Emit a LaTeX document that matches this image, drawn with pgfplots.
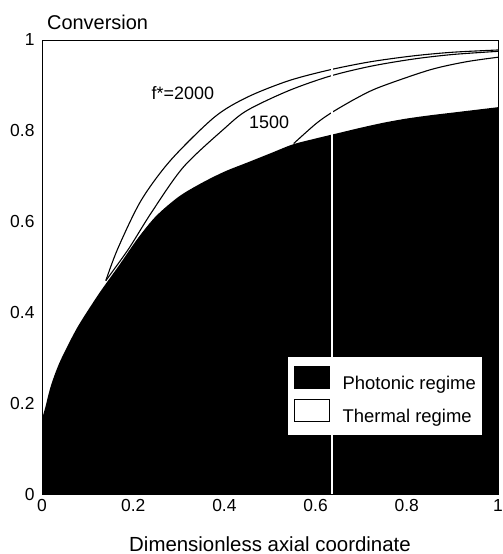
\documentclass[border=0pt]{standalone}
\usepackage{pgfplots}
\pgfplotsset{compat=1.18}
\usepackage{fontspec}
\setmainfont{Liberation Sans}
\begin{document}
\begin{tikzpicture}
\begin{axis}[
  width=456bp, height=454bp, scale only axis,
  xmin=0, xmax=1, ymin=0, ymax=1,
  xtick={0,0.2,0.4,0.6,0.8,1}, xticklabels={0,0.2,0.4,0.6,0.8,1},
  ytick={0,0.2,0.4,0.6,0.8,1}, yticklabels={0,0.2,0.4,0.6,0.8,1},
  major tick length=0pt,
  tick label style={font=\fontsize{17.5}{19}\selectfont},
  yticklabel style={xshift=-4bp},
  xticklabel style={yshift=-2bp},
  /pgf/number format/assume math mode=true,
  xlabel={Dimensionless axial coordinate},
  xlabel style={font=\fontsize{20.5}{22}\selectfont, at={(axis description cs:0.5,0)}, anchor=base, yshift=-57bp, inner sep=0pt},
  ylabel={Conversion},
  ylabel style={font=\fontsize{20}{22}\selectfont, rotate=-90, at={(axis description cs:0,1)}, anchor=base west, xshift=5bp, yshift=10bp, inner sep=0pt},
  axis line style={line width=0.8pt},
  axis on top,
  legend cell align=left,
  legend style={at={(0.965,0.13)}, anchor=south east, draw=none, fill=white,
    font=\fontsize{18.5}{20}\selectfont, inner xsep=4bp, inner ysep=9bp, row sep=6bp},
  legend image code/.code={\draw[#1] (0bp,-5bp) rectangle (35bp,17bp); \path (-2bp,0bp) (46bp,0bp);},
]
\coordinate (ll) at (rel axis cs:0,0);
\coordinate (ur) at (rel axis cs:1,1);
\addplot[fill=black, draw=none, smooth, tension=0.5, forget plot] coordinates {
(0,0.165) (0.007,0.19) (0.02,0.24) (0.04,0.293) (0.077,0.366) (0.12,0.434) (0.145,0.47) (0.17,0.505)
(0.21,0.563) (0.25,0.612) (0.30,0.655) (0.35,0.685) (0.40,0.71) (0.45,0.73)
(0.50,0.75) (0.55,0.77) (0.60,0.783) (0.65,0.795) (0.70,0.807) (0.75,0.818)
(0.80,0.827) (0.85,0.834) (0.90,0.840) (0.95,0.846) (1.0,0.852)
} \closedcycle;
\addplot[black, line width=1.1pt, smooth, forget plot] coordinates {
(0.14,0.47) (0.166,0.54) (0.217,0.646) (0.282,0.735) (0.378,0.83) (0.45,0.874)
(0.54,0.91) (0.63,0.934) (0.72,0.952) (0.814,0.965) (0.9,0.973) (1,0.978)
};
\addplot[black, line width=1.1pt, smooth, forget plot] coordinates {
(0.14,0.47) (0.19,0.54) (0.24,0.62) (0.31,0.72) (0.40,0.805) (0.45,0.845)
(0.54,0.888) (0.63,0.92) (0.72,0.942) (0.814,0.958) (0.9,0.968) (1,0.975)
};
\addplot[black, line width=1.1pt, smooth, forget plot] coordinates {
(0.552,0.772) (0.60,0.815) (0.635,0.84) (0.69,0.872) (0.74,0.896) (0.85,0.934)
(0.93,0.952) (1,0.962)
};
\addplot[white, line width=1.5pt, forget plot] coordinates {(0.636,0) (0.636,1)};
\addlegendimage{fill=black, draw=black}
\addlegendentry{Photonic regime}
\addlegendimage{fill=white, draw=black, line width=0.6pt}
\addlegendentry{Thermal regime}
\node[font=\fontsize{18}{20}\selectfont] at (axis cs:0.309,0.883) {f*=2000};
\node[font=\fontsize{18}{20}\selectfont] at (axis cs:0.498,0.819) {1500};
\end{axis}
\pgfresetboundingbox
\path ([shift={(-42bp,-60bp)}]ll) rectangle ([shift={(5bp,40bp)}]ur);
\end{tikzpicture}
\end{document}
